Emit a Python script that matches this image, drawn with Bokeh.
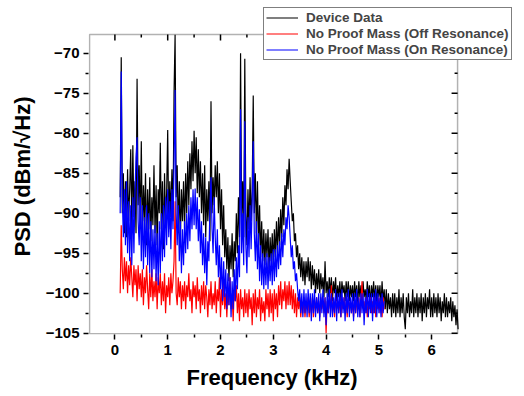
import numpy as np
from bokeh.plotting import figure
from bokeh.models import (Range1d, FixedTicker, Legend, LegendItem, BoxAnnotation, Title)
from bokeh.embed import file_html
from bokeh.resources import INLINE

FREQ_START_KHZ = 0.10
FREQ_STEP_KHZ = 0.02

device_psd = [
    -88, -70.5, -90, -85, -92.5, -86, -93, -84.5, -91, -87,                  # 0.10
    -82, -92, -81.5, -90.5, -86, -92.5, -73.2, -89, -84, -91.5,
    -81, -93, -86.5, -91, -85, -94, -87, -92, -85.5, -93.5,                  # 0.50
    -88, -91.5, -84, -92.5, -86.5, -94, -87, -90, -81.2, -92,
    -86, -94.5, -85, -91, -87.5, -79.6, -92, -86, -90.5, -84.5,              # 0.90
    -91, -75, -67.7, -88, -84, -92.5, -86, -93.5, -87, -91,
    -86, -92, -85, -90, -83.5, -89, -82.5, -87, -81, -86,                    # 1.30
    -79.7, -85, -80.5, -87.5, -82, -88, -83.5, -90, -85, -91.5,
    -84, -93, -87, -91, -86, -93.5, -76, -90, -85.5, -89,                    # 1.70
    -84, -88, -83.5, -90, -85, -92, -87, -94, -89, -95.5,
    -92, -97, -93, -98.5, -94, -97, -92.5, -98, -93.5, -96,                  # 2.10
    -90, -95, -88, -93, -70, -91, -86, -93, -70.7, -90,
    -94, -87, -92, -85.5, -91, -87, -75.3, -90, -85, -92.5,                  # 2.50
    -86, -94, -89, -95.5, -91, -96, -92, -96.5, -92.5, -95.5,
    -92, -97, -93, -96, -92.5, -96.5, -92, -95.5, -91, -95,                  # 2.90
    -90.5, -94, -89.5, -93, -88, -91.5, -86.5, -89, -84.5, -87,
    -83.2, -86, -88.5, -91, -90, -93.5, -92.5, -95.5, -94, -97,              # 3.30
    -95, -98, -95.5, -98.5, -96, -99, -96, -98, -95.5, -98.5,
    -96, -99.5, -96.5, -99, -97, -100, -97.5, -99.5, -97, -100,              # 3.70
    -97.5, -99.5, -98, -100.5, -96, -100, -98.5, -100.5, -98, -100,
    -98, -101, -98.5, -100, -98, -101, -99, -100.5, -98.5, -101,             # 4.10
    -98.5, -100, -99, -101, -98.5, -100.5, -98.5, -101, -99, -100.5,
    -99, -101, -98.5, -100.5, -99, -101.5, -98.5, -100.5, -99, -101,         # 4.50
    -98.5, -100.5, -99.5, -101, -98.5, -100.5, -99, -101.5, -99, -100.5,
    -98.5, -101, -99, -101.5, -99, -100.5, -99, -101.5, -98.5, -101,         # 4.90
    -99.5, -102, -99.5, -102.5, -100, -102, -100.5, -103, -100, -102.5,
    -100, -103, -100.5, -102.5, -99.5, -103, -100.5, -102.5, -100, -103,     # 5.30
    -104.5, -100.5, -102.5, -100, -103, -101, -102.5, -99.5, -103, -100.5,
    -102.5, -100, -103, -100.5, -102.5, -100, -103.5, -100.5, -102.5, -100,  # 5.70
    -103, -100.5, -102, -99.5, -103, -100.5, -103, -100, -102.5, -100.5,
    -103, -100, -102.5, -100.5, -103.5, -101, -102.5, -100, -103, -100.5,    # 6.10
    -103, -101, -102.5, -100.5, -103.5, -101, -103, -101.5, -104, -102,
    -104.5,                                                                  # 6.50
]

off_res_psd = [
    -100, -91.5, -97, -99.5, -95.5, -98.5, -96, -100, -96.5, -99,            # 0.10
    -95.5, -98, -100.5, -96.5, -99, -97, -101, -96.5, -99.5, -97.5,
    -100.5, -97, -101.5, -98, -100, -96.5, -99.5, -102, -97.5, -100.5,       # 0.50
    -97, -101, -98.5, -100.5, -97.5, -102, -98, -100, -97.5, -101.5,
    -98.5, -101, -97.5, -102.5, -99, -100.5, -98, -101.5, -97.5, -100,       # 0.90
    -98.5, -96, -88.5, -100, -101.5, -98, -100.5, -98.5, -102, -99,
    -101, -98.5, -102, -99, -100.5, -97.5, -101, -99.5, -102.5, -98.5,       # 1.30
    -100.5, -99, -102, -98, -101, -99.5, -102.5, -99, -101.5, -98.5,
    -102, -99, -100.5, -103, -99.5, -101.5, -98.5, -102, -100, -101.5,       # 1.70
    -98.5, -102.5, -99.5, -101, -98, -103, -99.5, -101.5, -98.5, -102,
    -100, -103, -99.5, -101.5, -98, -102, -100, -103.5, -99.5, -101,         # 2.10
    -99, -102.5, -100, -103.5, -99.5, -102, -100.5, -103, -99.5, -102.5,
    -100, -103, -99.5, -102, -100.5, -104, -100, -102.5, -99.5, -103,        # 2.50
    -100.5, -102, -99.5, -103.5, -100.5, -102.5, -101, -103.5, -99.5, -102,
    -100, -103, -99.5, -102.5, -100, -103.5, -99.5, -102, -100, -103,        # 2.90
    -99, -101.5, -98.5, -102, -99.5, -101, -98.5, -102, -99, -101.5,
    -98.5, -101.5, -99, -102, -99.5, -102.5, -100, -103, -100.5, -102,       # 3.30
    -100.5, -103, -101, -102.5, -100.5, -103, -101, -102, -100.5, -103,
    -101, -102.5, -100.5, -103, -101, -102, -100.5, -102.5, -101, -103,      # 3.70
    -100.5, -102, -101, -102.5, -100.5, -105, -101, -102.5, -100.5, -102,
    -99, -102.5, -101, -103, -100.5, -102, -101, -102.5, -100.5, -103,       # 4.10
    -101, -102, -100.5, -102.5, -101, -103, -100.5, -102, -101, -102.5,
    -101, -103, -100.5, -102.5, -101, -102, -100.5, -103, -101, -98.5,       # 4.50
    -102, -101, -102.5, -100.5, -103, -101, -102, -100.5, -102.5, -101,
    -102.5, -100.5, -103, -101, -102, -100.5, -102.5, -101, -103, -100.5,    # 4.90
    -102,                                                                    # 5.10
]

on_res_psd = [
    -90, -72.3, -88, -93, -87, -94, -86, -95, -88.5, -96,                    # 0.10
    -89, -96.5, -88, -95, -87.5, -83, -80.5, -91, -94, -88,
    -96, -89, -97, -90.5, -95.5, -89, -96.5, -90, -97.5, -91,                # 0.50
    -98, -92, -97, -91.5, -98.5, -92.5, -99, -91, -97.5, -90,
    -96, -89, -95.5, -88, -94, -87, -93, -88.5, -94.5, -87,                  # 0.90
    -92, -84, -74.6, -90, -94, -89, -96, -91, -97.5, -92,
    -96.5, -91, -95, -90, -94.5, -89, -93.5, -88, -92, -87,                  # 1.30
    -91.5, -86.9, -92, -88, -93.5, -89.5, -95, -91, -96.5, -92.5,
    -97.5, -93, -99, -93.5, -96, -89, -85.5, -92, -95, -88,                  # 1.70
    -93, -96.5, -92, -98, -94, -99.5, -95.5, -101, -96, -100.5,
    -97, -102, -97.5, -101.5, -98, -103, -98.5, -102, -97, -101,             # 2.10
    -95.5, -99.5, -94, -98, -77, -95, -90, -96.5, -78.5, -94,
    -97.5, -90.5, -95.5, -89, -94.5, -88.5, -81, -92.5, -96, -91,            # 2.50
    -97, -92.5, -98.5, -94, -99, -95, -99.5, -95.5, -99, -95,
    -99.5, -95.5, -98.5, -95, -99, -94.5, -98.5, -94.5, -98, -94,            # 2.90
    -97, -93.5, -96.5, -92.5, -95.5, -92, -94, -90.5, -92, -89,
    -90.5, -93, -95.5, -94, -97, -96, -98.5, -97.5, -99.5, -101,             # 3.30
    -99.5, -102.5, -100, -103, -99.5, -102.5, -100, -103, -99.5, -102.5,
    -100, -103.5, -100, -102.5, -99.5, -103, -100.5, -102.5, -100, -103.5,   # 3.70
    -100, -102.5, -99.5, -103, -100.5, -104, -100, -102.5, -99.5, -103,
    -100, -103, -100.5, -102.5, -99.5, -103.5, -100, -102.5, -100, -103,     # 4.10
    -99.5, -102.5, -100.5, -103.5, -100, -102.5, -99.5, -103, -100.5, -102.5,
    -100, -103.5, -100, -102.5, -99.5, -103, -100.5, -103, -100, -102.5,     # 4.50
    -100, -104, -100.5, -102.5, -99.5, -103, -100, -102.5, -100, -103.5,
    -100, -102.5, -99.5, -103, -100, -102.5, -100.5, -103, -100, -102.5,     # 4.90
    -101,                                                                    # 5.10
]

SERIES_NAMES = ["Device Data", "No Proof Mass (Off Resonance)", "No Proof Mass (On Resonance)"]
SERIES_COLORS = ["#000000", "#FF0000", "#0000FF"]

X_TICKS = [0, 1, 2, 3, 4, 5, 6]
X_MINOR = [0.5, 1.5, 2.5, 3.5, 4.5, 5.5]
Y_TICKS = [-105, -100, -95, -90, -85, -80, -75, -70]
Y_MINOR = [-102.5, -97.5, -92.5, -87.5, -82.5, -77.5, -72.5]

# plot box (axis limits of the original chart)
X_LO, X_HI = -0.48, 6.49
Y_LO, Y_HI = -105.08, -67.66


def freqs(vals):
    return FREQ_START_KHZ + FREQ_STEP_KHZ * np.arange(len(vals))


FONT = "Liberation Sans"

p = figure(width=516, height=396, output_backend="svg", toolbar_location=None,
           x_range=Range1d(-0.50, 7.606), y_range=Range1d(-105.16, -63.41),
           min_border_left=88, min_border_right=0, min_border_top=0, min_border_bottom=62,
           background_fill_color="white", border_fill_color="white")
p.grid.visible = False
p.outline_line_color = None

renderers = []
for vals, color in zip([device_psd, off_res_psd, on_res_psd], SERIES_COLORS):
    r = p.line(freqs(vals), vals, line_color=color, line_width=1.2)
    renderers.append(r)

# main axes
xa = p.xaxis[0]
xa.ticker = FixedTicker(ticks=X_TICKS, minor_ticks=X_MINOR)
xa.bounds = (X_LO, X_HI)
ya = p.yaxis[0]
ya.ticker = FixedTicker(ticks=Y_TICKS, minor_ticks=Y_MINOR)
ya.bounds = (Y_LO, Y_HI)
for ax in (xa, ya):
    ax.axis_line_color = None
    ax.major_tick_line_width = 1.5
    ax.minor_tick_line_width = 1.5
    ax.major_tick_in = 0
    ax.major_tick_out = 5
    ax.minor_tick_in = 0
    ax.minor_tick_out = 3
    ax.major_label_text_font = FONT
    ax.major_label_text_font_style = "bold"
    ax.major_label_text_font_size = "15px"
    ax.major_label_text_color = "black"
xa.major_label_standoff = 5
ya.major_label_standoff = 4

# axis titles placed along the plot box
p.add_layout(Title(text="Frequency (kHz)", align="left", offset=98, standoff=10,
                   text_font=FONT, text_font_style="bold", text_font_size="22px",
                   text_color="black"), "below")
p.add_layout(Title(text="PSD (dBm/\u221aHz)", align="left", offset=78, standoff=15,
                   text_font=FONT, text_font_style="bold", text_font_size="22px",
                   text_color="black"), "left")

# frame box
p.add_layout(BoxAnnotation(left=X_LO, right=X_HI, bottom=Y_LO, top=Y_HI,
                           fill_alpha=0, line_color="black", line_width=1.5))

# inward mirror ticks on top and right edges
p.ray(x=X_TICKS, y=[Y_HI] * len(X_TICKS), length=6, angle=-np.pi / 2,
      length_units="screen", line_color="black", line_width=1.5)
p.ray(x=X_MINOR, y=[Y_HI] * len(X_MINOR), length=3, angle=-np.pi / 2,
      length_units="screen", line_color="black", line_width=1.5)
p.ray(x=[X_HI] * len(Y_TICKS), y=Y_TICKS, length=6, angle=np.pi,
      length_units="screen", line_color="black", line_width=1.5)
p.ray(x=[X_HI] * len(Y_MINOR), y=Y_MINOR, length=3, angle=np.pi,
      length_units="screen", line_color="black", line_width=1.5)

legend = Legend(items=[LegendItem(label=n, renderers=[r]) for n, r in zip(SERIES_NAMES, renderers)],
                location=(175, 274))
legend.label_text_font = FONT
legend.label_text_font_style = "bold"
legend.label_text_font_size = "13.5px"
legend.glyph_width = 32
legend.glyph_height = 15
legend.label_height = 15
legend.spacing = 1
legend.padding = 2
legend.label_standoff = 8
legend.border_line_color = "black"
legend.border_line_width = 1
legend.background_fill_alpha = 1
legend.background_fill_color = "white"
p.add_layout(legend, "center")

open("out.html", "w").write(file_html(p, INLINE))
